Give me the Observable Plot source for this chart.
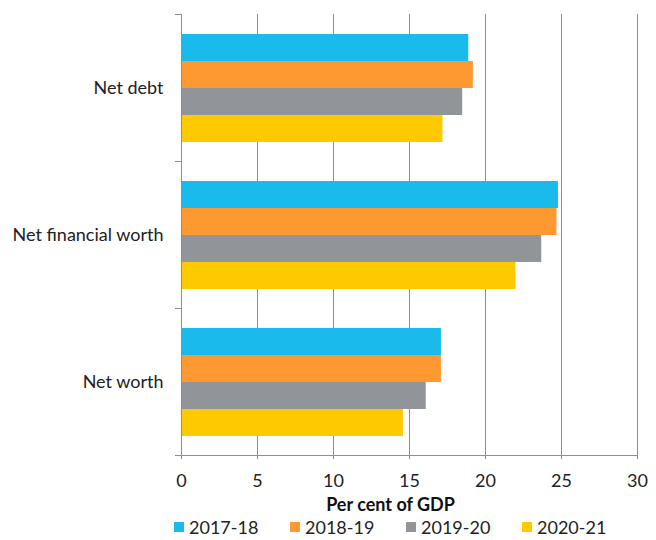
<!DOCTYPE html>
<html>
<head>
<meta charset="utf-8">
<script src="https://cdn.jsdelivr.net/npm/d3@7"></script>
<script src="https://cdn.jsdelivr.net/npm/@observablehq/plot@0.6"></script>
<style>
  html, body { margin: 0; padding: 0; background: #fff; }
  body { width: 656px; height: 540px; overflow: hidden; font-family: Lato, "Open Sans", sans-serif; }
  #chart svg { display: block; }
  #legend { display: flex; height: 22px; align-items: center; padding-left: 174px; font-size: 18px; line-height: 22px; color: #222; }
  #legend .item { width: 116px; display: flex; align-items: center; }
  #legend .sw { width: 10px; height: 10px; margin-right: 5px; }
</style>
</head>
<body>
<div id="chart"></div>
<div id="legend"></div>
<script>
// Balance sheet aggregates, per cent of GDP
const categories = ["Net debt", "Net financial worth", "Net worth"];
const years = ["2017-18", "2018-19", "2019-20", "2020-21"];
const netDebt = [18.9, 19.2, 18.5, 17.2];
const netFinancialWorth = [24.8, 24.7, 23.7, 22.0];
const netWorth = [17.1, 17.1, 16.1, 14.6];
const colors = ["#1bbaec", "#fe9931", "#919498", "#ffc900"];
const xTicks = [0, 5, 10, 15, 20, 25, 30];
const xLabel = "Per cent of GDP";

const series = [netDebt, netFinancialWorth, netWorth];
const rows = categories.flatMap((category, i) =>
  years.map((year, j) => ({category, year, value: series[i][j]}))
);

const gridColor = "#8e8e8e";

// small ticks marking the category boundaries on the left axis
function boundaryTicks(index, scales, values, dims) {
  const g = d3.create("svg:g").attr("stroke", gridColor).attr("stroke-width", 1);
  const top = dims.marginTop, bottom = dims.height - dims.marginBottom;
  for (const y of [top, bottom]) {
    g.append("line")
      .attr("x1", dims.marginLeft - 6).attr("x2", dims.marginLeft)
      .attr("y1", y + 0.5).attr("y2", y + 0.5);
  }
  return g.node();
}

const chart = Plot.plot({
  width: 656,
  height: 516,
  marginLeft: 181,
  marginRight: 19,
  marginTop: 14,
  marginBottom: 61,
  style: {fontFamily: "Lato, 'Open Sans', sans-serif", fontSize: "18px", color: "#222", background: "#fff", overflow: "visible"},
  x: {domain: [0, 30], ticks: xTicks, label: null},
  fy: {domain: categories, padding: 0, label: null},
  y: {domain: years, paddingInner: 0, paddingOuter: 0.716, axis: null},
  color: {domain: years, range: colors},
  marks: [
    Plot.gridX(xTicks.filter((d) => d > 0), {stroke: gridColor, strokeOpacity: 1}),
    Plot.barX(rows, {fy: "category", y: "year", x: "value", fill: "year", inset: 0}),
    Plot.ruleX([0], {stroke: gridColor}),
    boundaryTicks,
    Plot.frame({anchor: "bottom", facetAnchor: "bottom", stroke: gridColor}),
    Plot.axisX({ticks: xTicks, tickSize: 4, tickPadding: 15, stroke: gridColor, label: null, fontSize: 18, facetAnchor: "bottom"}),
    Plot.axisFy({anchor: "left", tickSize: 0, tickPadding: 18, label: null, fontSize: 18}),
    Plot.text([xLabel], {text: (d) => d, frameAnchor: "bottom", dy: 55, dx: -19, fontWeight: "bold", fontSize: 18, fill: "#111", facetAnchor: "bottom"})
  ]
});
document.getElementById("chart").append(chart);

// legend
const legend = d3.select("#legend");
years.forEach((year, i) => {
  const item = legend.append("div").attr("class", "item");
  item.append("div").attr("class", "sw").style("background", colors[i]);
  item.append("span").text(year);
});
</script>
</body>
</html>
